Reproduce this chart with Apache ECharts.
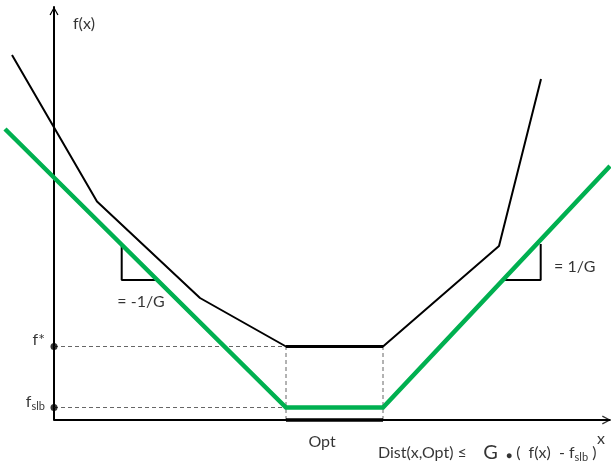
<!DOCTYPE html>
<html>
<head>
<meta charset="utf-8">
<script src="https://cdn.jsdelivr.net/npm/echarts@6/dist/echarts.min.js"></script>
<style>
  html, body { margin: 0; padding: 0; background: #fff; }
  #chart { width: 611px; height: 466px; }
</style>
</head>
<body>
<div id="chart"></div>
<script>
// Objective f(x) (piecewise linear) and its sharp lower bound (green V)
const fxX = [-4.2, 4.3, 14.6, 23.2, 32.9, 44.5, 48.7];
const fxY = [36.5, 21.85, 12.2, 7.35, 7.35, 17.4, 34.1];

const boundX = [-4.9, 23.2, 32.9, 55.6];
const boundY = [29.1, 1.25, 1.25, 25.4];

// Optimal set and the two levels marked on the f axis
const optRange = [23.2, 32.9];
const fStar = 7.35;
const fSlb = 1.25;

// Slope markers: [corner x, corner y, other x, top y]
const slopeLeft = [6.77, 14.0, 10.4, 17.7];
const slopeRight = [48.67, 14.0, 45.1, 17.6];

const axisMinX = -5.0;
const axisMaxX = 55.7;
const axisMaxY = 41.3;
const xArrowEnd = 55.65;

const FONT = 'Lato, "Open Sans", sans-serif';
const GREEN = '#00B050';

const pairs = (xs, ys) => xs.map((x, i) => [x, ys[i]]);

const chevron = 'path://M5,0 L10,9 L8.7,9.7 L5,2.7 L1.3,9.7 L0,9 Z';

// Annotation texts placed in data coordinates
const labels = [
  { value: [1.9, 39.6], text: 'f(x)', align: 'left' },
  { value: [-0.9, 8.0], text: 'f*', align: 'right' },
  { value: [-0.9, 1.8], text: 'f{sub|slb}', align: 'right' },
  { value: [26.8, -2.2], text: 'Opt', align: 'center' },
  { value: [54.7, -1.9], text: 'x', align: 'center' },
  { value: [32.4, -3.3], text: 'Dist(x,Opt) ≤    {g|G}  {dot|●} (  f(x)  - f{sub|slb} )', align: 'left' },
  { value: [8.7, 11.8], text: '= -1/G', align: 'center' },
  { value: [50.0, 15.3], text: '= 1/G', align: 'left' }
];

const chart = echarts.init(document.getElementById('chart'), null, { renderer: 'canvas' });

const lineBase = { type: 'line', symbol: 'none', clip: false, silent: true, z: 3 };
const dashed = { color: '#666', width: 1, type: [4, 3] };

chart.setOption({
  animation: false,
  grid: { left: 4, right: 0, top: 7, bottom: 46, containLabel: false },
  xAxis: {
    type: 'value', min: axisMinX, max: axisMaxX,
    axisLine: { show: false },
    axisTick: { show: false }, axisLabel: { show: false }, splitLine: { show: false }
  },
  yAxis: {
    type: 'value', min: 0, max: axisMaxY,
    axisLine: { show: true, onZero: true, symbol: ['none', chevron], symbolSize: [9, 9], symbolOffset: [0, -4],
      lineStyle: { color: '#000', width: 2 } },
    axisTick: { show: false }, axisLabel: { show: false }, splitLine: { show: false }
  },
  series: [
    // horizontal axis, starting at the f axis
    Object.assign({}, lineBase, { data: [[0, 0], [xArrowEnd, 0]], lineStyle: { color: '#000', width: 2 }, z: 2 }),
    { type: 'scatter', symbol: chevron, symbolSize: [9, 9], symbolRotate: -90, symbolOffset: [-4, 0],
      clip: false, silent: true, z: 2, itemStyle: { color: '#000' }, data: [[xArrowEnd, 0]] },
    // dashed guides
    Object.assign({}, lineBase, { data: [[0, fStar], [optRange[0], fStar]], lineStyle: dashed, z: 1 }),
    Object.assign({}, lineBase, { data: [[0, fSlb], [optRange[0], fSlb]], lineStyle: dashed, z: 1 }),
    Object.assign({}, lineBase, { data: [[optRange[0], 0], [optRange[0], fStar]], lineStyle: dashed, z: 1 }),
    Object.assign({}, lineBase, { data: [[optRange[1], 0], [optRange[1], fStar]], lineStyle: dashed, z: 1 }),
    // slope markers
    Object.assign({}, lineBase, { data: [[slopeLeft[0], slopeLeft[3]], [slopeLeft[0], slopeLeft[1]], [slopeLeft[2], slopeLeft[1]]],
      lineStyle: { color: '#000', width: 2 } }),
    Object.assign({}, lineBase, { data: [[slopeRight[2], slopeRight[1]], [slopeRight[0], slopeRight[1]], [slopeRight[0], slopeRight[3]]],
      lineStyle: { color: '#000', width: 2 } }),
    // f(x)
    Object.assign({}, lineBase, { data: pairs(fxX, fxY), lineStyle: { color: '#000', width: 2 } }),
    Object.assign({}, lineBase, { data: [[optRange[0], fStar], [optRange[1], fStar]], lineStyle: { color: '#000', width: 3 } }),
    // Opt on the x axis
    Object.assign({}, lineBase, { data: [[optRange[0], 0], [optRange[1], 0]], lineStyle: { color: '#000', width: 3.5 }, z: 5 }),
    // lower bound
    Object.assign({}, lineBase, { data: pairs(boundX, boundY), lineStyle: { color: GREEN, width: 4.5, join: 'miter' }, z: 4 }),
    // level dots
    { type: 'scatter', symbol: 'circle', symbolSize: 7, clip: false, silent: true, z: 6,
      itemStyle: { color: '#000' }, data: [[0, fStar], [0, fSlb]] },
    // texts
    {
      type: 'scatter', symbolSize: 0, clip: false, silent: true, z: 7,
      data: labels.map(l => ({
        value: l.value,
        label: {
          show: true, position: 'inside', formatter: l.text, align: l.align, verticalAlign: 'middle',
          color: '#000', fontFamily: FONT, fontSize: 16,
          rich: {
            sub: { fontFamily: FONT, fontSize: 11, color: '#000', padding: [9, 0, 0, 0] },
            g: { fontFamily: FONT, fontSize: 20, color: '#000' },
            dot: { fontFamily: FONT, fontSize: 10, color: '#000', padding: [5, 0, 0, 0] }
          }
        }
      }))
    }
  ]
});
</script>
</body>
</html>
